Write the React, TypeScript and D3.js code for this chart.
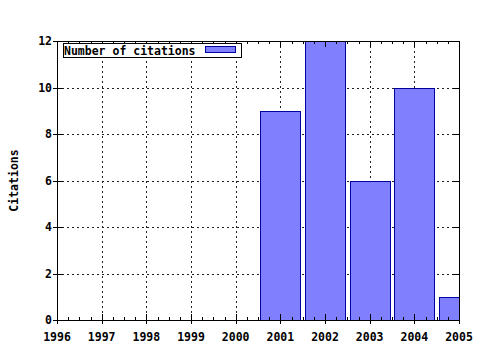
import React from "react";
import * as d3 from "d3";

const years = [1996, 1997, 1998, 1999, 2000, 2001, 2002, 2003, 2004, 2005];
const citations = [0, 0, 0, 0, 0, 9, 12, 6, 10, 1];
const yTicks = [0, 2, 4, 6, 8, 10, 12];
const seriesName = "Number of citations";
const yLabel = "Citations";

export default function App() {
  const W = 480, H = 350;
  const left = 57, right = 459, top = 41, bottom = 320;
  const x = d3.scaleLinear().domain([1996, 2005]).range([left, right]);
  const y = d3.scaleLinear().domain([0, 12]).range([bottom, top]);
  const font = "'DejaVu Sans Mono', monospace";
  const fs = 11.5;
  const barW = (x(1997) - x(1996)) * 0.9;
  const minor: number[] = [];
  for (let i = 0; i < years.length - 1; i++) {
    for (let k = 1; k < 4; k++) minor.push(years[i] + k / 4);
  }
  const grid = "#202020";
  return (
    <svg width={W} height={H} style={{ position: "absolute", left: 0, top: 0, background: "#fff" }}>
      <defs>
        <clipPath id="plot">
          <rect x={left} y={top} width={right - left} height={bottom - top} />
        </clipPath>
      </defs>
      {yTicks.slice(1, -1).map((t) => (
        <line key={"gy" + t} x1={left} x2={right} y1={Math.round(y(t)) + 0.5} y2={Math.round(y(t)) + 0.5}
          stroke={grid} strokeDasharray="2,3" />
      ))}
      {years.slice(1, -1).map((t) => (
        <line key={"gx" + t} x1={Math.round(x(t)) + 0.5} x2={Math.round(x(t)) + 0.5} y1={top} y2={bottom}
          stroke={grid} strokeDasharray="2,3" />
      ))}
      <g clipPath="url(#plot)">
        {years.map((yr, i) =>
          citations[i] > 0 ? (
            <rect key={"b" + yr} x={Math.round(x(yr) - barW / 2) + 0.5} y={Math.round(y(citations[i])) + 0.5}
              width={Math.round(barW)} height={Math.round(y(0)) - Math.round(y(citations[i]))}
              fill="#8080ff" stroke="#0000a0" strokeWidth={1} />
          ) : null
        )}
      </g>
      <rect x={left + 0.5} y={top + 0.5} width={right - left} height={bottom - top} fill="none" stroke="#000" />
      {yTicks.map((t) => (
        <g key={"yt" + t}>
          <line x1={left - 4} x2={left + 6} y1={Math.round(y(t)) + 0.5} y2={Math.round(y(t)) + 0.5} stroke="#000" />
          <line x1={right - 6} x2={right} y1={Math.round(y(t)) + 0.5} y2={Math.round(y(t)) + 0.5} stroke="#000" />
          <text x={52} y={y(t)} dy="0.35em" textAnchor="end" fontFamily={font} fontWeight="bold" fontSize={fs}>{t}</text>
        </g>
      ))}
      {years.map((t) => (
        <g key={"xt" + t}>
          <line x1={Math.round(x(t)) + 0.5} x2={Math.round(x(t)) + 0.5} y1={bottom - 6} y2={bottom + 4} stroke="#000" />
          <line x1={Math.round(x(t)) + 0.5} x2={Math.round(x(t)) + 0.5} y1={top} y2={top + 6} stroke="#000" />
          <text x={x(t)} y={337} dy="0.35em" textAnchor="middle" fontFamily={font} fontWeight="bold" fontSize={fs}>{t}</text>
        </g>
      ))}
      {minor.map((t, i) => (
        <g key={"mt" + i}>
          <line x1={Math.round(x(t)) + 0.5} x2={Math.round(x(t)) + 0.5} y1={bottom - 3} y2={bottom} stroke="#000" />
          <line x1={Math.round(x(t)) + 0.5} x2={Math.round(x(t)) + 0.5} y1={top} y2={top + 3} stroke="#000" />
        </g>
      ))}
      <text transform={`translate(14,${(top + bottom) / 2}) rotate(-90)`} textAnchor="middle" dy="0.35em"
        fontFamily={font} fontWeight="bold" fontSize={fs}>{yLabel}</text>
      <rect x={63.5} y={43.5} width={178} height={14} fill="#fff" stroke="#000" />
      <text x={64} y={50.5} dy="0.35em" fontFamily={font} fontWeight="bold" fontSize={fs}>{seriesName}</text>
      <rect x={205.5} y={46.5} width={30} height={6} fill="#8080ff" stroke="#0000a0" />
    </svg>
  );
}
